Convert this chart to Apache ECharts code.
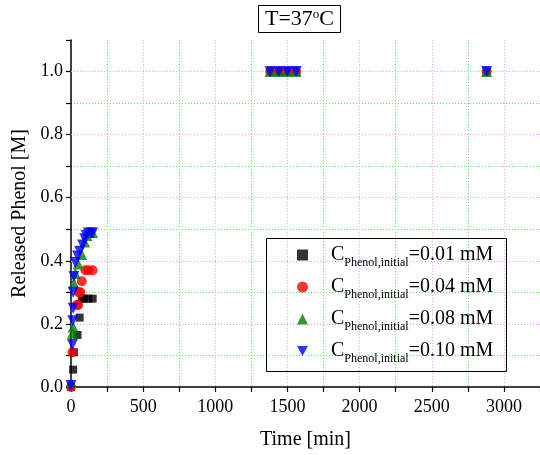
<!DOCTYPE html>
<html>
<head>
<meta charset="utf-8">
<script src="https://cdn.jsdelivr.net/npm/echarts@6/dist/echarts.min.js"></script>
<style>html,body{margin:0;padding:0;background:#fff}#c{width:540px;height:455px}</style>
</head>
<body>
<div id="c"></div>
<script>
var FONT = 'Liberation Serif, Times New Roman, serif';
var seriesNames = ['0.01 mM', '0.04 mM', '0.08 mM', '0.10 mM'];
var timesBlack = [0, 15, 20, 45, 60, 75, 90, 120, 150, 1380, 1440, 1500, 1560, 2880];
var valuesBlack = [0, 0.055, 0.11, 0.165, 0.22, 0.28, 0.28, 0.28, 0.28, 1, 1, 1, 1, 1];
var timesRed = [0, 10, 40, 50, 55, 65, 75, 100, 120, 150, 1380, 1440, 1500, 1560, 2880];
var valuesRed = [0, 0.11, 0.26, 0.26, 0.30, 0.30, 0.335, 0.37, 0.37, 0.37, 1, 1, 1, 1, 1];
var timesGreen = [0, 10, 15, 20, 30, 50, 75, 95, 110, 130, 150, 1380, 1440, 1500, 1560, 2880];
var valuesGreen = [0.015, 0.17, 0.19, 0.33, 0.36, 0.39, 0.42, 0.46, 0.48, 0.49, 0.49, 1, 1, 1, 1, 1];
var timesBlue = [0, 10, 12, 15, 15, 20, 30, 45, 60, 80, 95, 105, 120, 140, 150, 1380, 1440, 1500, 1560, 2880];
var valuesBlue = [0.005, 0.135, 0.21, 0.25, 0.30, 0.35, 0.395, 0.415, 0.43, 0.45, 0.47, 0.48, 0.488, 0.488, 0.488, 1, 1, 1, 1, 1];

function pairs(t, v) { return t.map(function (x, i) { return [x, v[i]]; }); }

var PINK = '#ff99ff', GREEN = '#55f055';
var DOT = [1, 2];
var chart = echarts.init(document.getElementById('c'), null, {renderer: 'canvas'});
var axisText = {color: '#000', fontFamily: FONT, fontSize: 18};
var hiddenParts = {axisLine: {show: false}, axisTick: {show: false}, axisLabel: {show: false}};
chart.setOption({
  animation: false,
  backgroundColor: '#fff',
  title: {
    text: '{a|T=37}{b|o}{a|C}',
    left: 258, top: 5,
    padding: [3, 7, 3, 7],
    borderColor: '#000', borderWidth: 1,
    textStyle: {
      fontWeight: 'normal',
      rich: {
        a: {fontFamily: FONT, fontSize: 22, lineHeight: 22, color: '#000', fontWeight: 'normal'},
        b: {fontFamily: FONT, fontSize: 13, lineHeight: 13, verticalAlign: 'top', color: '#000', fontWeight: 'normal'}
      }
    }
  },
  graphic: [{
    type: 'rect', left: 264, top: 236, z: 100,
    shape: {width: 240, height: 133},
    style: {fill: null, stroke: '#000', lineWidth: 1}
  }],
  legend: {
    orient: 'vertical', left: 297, top: 245, padding: 0,
    itemWidth: 11, itemHeight: 11, itemGap: 8,
    data: [
      {name: seriesNames[0], icon: 'rect'},
      {name: seriesNames[1], icon: 'circle'},
      {name: seriesNames[2], icon: 'triangle'},
      {name: seriesNames[3], icon: 'path://M0,0 L10,0 L5,9 Z'}
    ],
    formatter: function (n) { return '{sp|}{c|C}{s|Phenol,initial}{c|=' + n + '}'; },
    textStyle: {
      rich: {
        sp: {width: 18, lineHeight: 28},
        c: {fontFamily: FONT, fontSize: 20, lineHeight: 28, color: '#000', verticalAlign: 'middle'},
        s: {fontFamily: FONT, fontSize: 12, lineHeight: 12, color: '#000', verticalAlign: 'bottom'}
      }
    }
  },
  grid: {left: 71, right: 0, top: 40, bottom: 68, containLabel: false, outerBoundsMode: 'none'},
  xAxis: [{
    type: 'value', min: 0, max: 3250, interval: 250,
    name: 'Time [min]', nameLocation: 'middle', nameGap: 43,
    nameTextStyle: {fontFamily: FONT, fontSize: 20, color: '#000'},
    axisLine: {lineStyle: {color: '#000', width: 1.5}},
    axisTick: {inside: false, length: 5, lineStyle: {color: '#000', width: 1.2}},
    axisLabel: Object.assign({margin: 11, formatter: function (v) { return v % 500 === 0 ? String(v) : ''; }}, axisText),
    splitLine: {show: true, showMinLine: false, showMaxLine: false,
      lineStyle: {type: DOT, width: 1, color: GREEN}}
  }, Object.assign({
    type: 'value', min: 0, max: 3250, interval: 500, position: 'bottom', z: 1,
    splitLine: {show: true, showMinLine: false, showMaxLine: false,
      lineStyle: {type: DOT, width: 1, color: PINK}}
  }, hiddenParts)],
  yAxis: [{
    type: 'value', min: 0, max: 1.1, interval: 0.1,
    name: 'Released Phenol [M]', nameLocation: 'middle', nameGap: 34,
    nameTextStyle: {fontFamily: FONT, fontSize: 20, color: '#000'},
    axisLine: {lineStyle: {color: '#000', width: 1.5}},
    axisTick: {inside: false, length: 5, lineStyle: {color: '#000', width: 1.2}},
    axisLabel: Object.assign({margin: 8, formatter: function (v) { var k = Math.round(v * 10); return k % 2 === 0 ? (k / 10).toFixed(1) : ''; }}, axisText),
    splitLine: {show: true, showMinLine: false, showMaxLine: false,
      lineStyle: {type: DOT, width: 1, color: GREEN}}
  }, Object.assign({
    type: 'value', min: 0, max: 1.1, interval: 0.2, position: 'left', z: 1,
    splitLine: {show: true, showMinLine: false, showMaxLine: false,
      lineStyle: {type: DOT, width: 1, color: PINK}}
  }, hiddenParts)],
  series: [
    {name: seriesNames[0], type: 'scatter', z: 5, symbol: 'rect', symbolSize: 8, itemStyle: {color: '#000'}, data: pairs(timesBlack, valuesBlack)},
    {name: seriesNames[1], type: 'scatter', z: 5, symbol: 'circle', symbolSize: 10, itemStyle: {color: '#ff0000'}, data: pairs(timesRed, valuesRed)},
    {name: seriesNames[2], type: 'scatter', z: 5, symbol: 'triangle', symbolSize: 11, itemStyle: {color: '#008000'}, data: pairs(timesGreen, valuesGreen)},
    {name: seriesNames[3], type: 'scatter', z: 5, symbol: 'triangle', symbolRotate: 180, symbolSize: 11, itemStyle: {color: '#0000ff'}, data: pairs(timesBlue, valuesBlue)}
  ]
});
</script>
</body>
</html>
